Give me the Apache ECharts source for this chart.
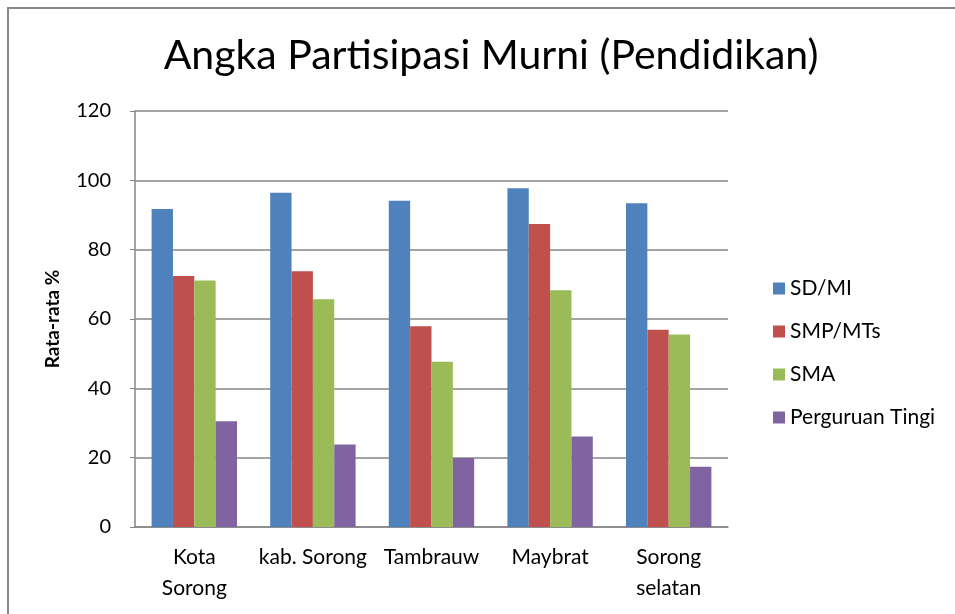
<!DOCTYPE html>
<html>
<head>
<meta charset="utf-8">
<title>Angka Partisipasi Murni</title>
<style type="text/css">
  html, body { margin: 0; padding: 0; background: #fff; }
  #chart { width: 955px; height: 614px; }
</style>
<script src="https://cdn.jsdelivr.net/npm/echarts@6/dist/echarts.min.js"></script>
</head>
<body>
<div id="chart"></div>
<script type="text/javascript">
// data
var categories = ['Kota\nSorong', 'kab. Sorong', 'Tambrauw', 'Maybrat', 'Sorong\nselatan'];
var sdMi = [91.7, 96.4, 94.1, 97.7, 93.4];
var smpMts = [72.4, 73.8, 57.9, 87.4, 56.9];
var sma = [71.1, 65.7, 47.7, 68.3, 55.5];
var perguruanTinggi = [30.5, 23.8, 19.9, 26.1, 17.4];
var seriesNames = ['SD/MI', 'SMP/MTs', 'SMA', 'Perguruan Tingi'];
var colors = ['#4F81BD', '#C0504D', '#9BBB59', '#8064A2'];

var font = 'Lato';
var myChart = echarts.init(document.getElementById('chart'));

function bar(name, data) {
  return {
    name: name,
    type: 'bar',
    data: data,
    barGap: '0%',
    barCategoryGap: '28%'
  };
}

var option = {
  animation: false,
  color: colors,
  textStyle: { fontFamily: font },
  title: {
    text: 'Angka Partisipasi Murni (Pendidikan)',
    left: 486,
    textAlign: 'center',
    top: 30,
    textStyle: { fontFamily: font, fontSize: 41, fontWeight: 'normal', color: '#000' }
  },
  legend: {
    orient: 'vertical',
    left: 768,
    top: 273,
    itemWidth: 12,
    itemHeight: 12,
    itemGap: 22,
    icon: 'rect',
    data: seriesNames,
    textStyle: { fontFamily: font, fontSize: 21, color: '#000' }
  },
  grid: { left: 135, top: 111, right: 227, bottom: 87, containLabel: false },
  xAxis: {
    type: 'category',
    data: categories,
    axisLine: { lineStyle: { color: '#868686', width: 1.5 } },
    axisTick: { show: false },
    axisLabel: { color: '#000', fontSize: 21, margin: 15, lineHeight: 31, interval: 0 }
  },
  yAxis: {
    type: 'value',
    min: 0,
    max: 120,
    interval: 20,
    name: 'Rata-rata %',
    nameLocation: 'middle',
    nameGap: 73,
    nameTextStyle: { fontFamily: font, fontSize: 19, fontWeight: 'bold', color: '#000' },
    axisLine: { show: true, lineStyle: { color: '#868686', width: 1.5 } },
    axisTick: { show: true, length: 5, inside: false, lineStyle: { color: '#868686' } },
    axisLabel: { color: '#000', fontSize: 20, margin: 24 },
    splitLine: { lineStyle: { color: '#868686', width: 1.5 } }
  },
  graphic: [{
    type: 'rect',
    shape: { x: 8, y: 8, width: 1200, height: 1200 },
    style: { fill: 'none', stroke: '#888', lineWidth: 2 },
    silent: true
  }],
  series: [
    bar(seriesNames[0], sdMi),
    bar(seriesNames[1], smpMts),
    bar(seriesNames[2], sma),
    bar(seriesNames[3], perguruanTinggi)
  ]
};

myChart.setOption(option);
</script>
</body>
</html>
